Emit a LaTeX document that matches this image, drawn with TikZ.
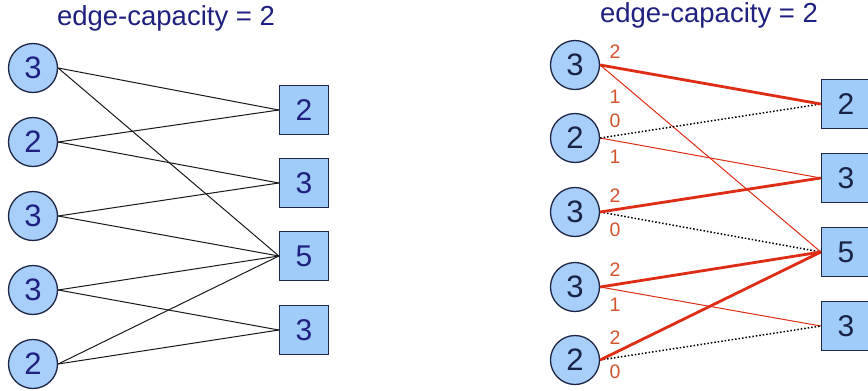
\documentclass[tikz,border=0pt]{standalone}
\usepackage{fontspec}
\setmainfont{Liberation Sans}
\definecolor{navy}{RGB}{32,32,128}
\definecolor{darknum}{RGB}{25,35,70}
\definecolor{bordercol}{RGB}{30,40,70}
\definecolor{circfill}{RGB}{168,206,250}
\definecolor{sqfill}{RGB}{160,204,250}
\definecolor{flowred}{RGB}{222,45,20}
\definecolor{labcol}{RGB}{210,85,45}
\begin{document}
\begin{tikzpicture}[x=1pt,y=-1pt,
  cnode/.style={circle, draw=bordercol, line width=1.3pt, fill=circfill, minimum size=49pt, inner sep=0pt, font=\fontsize{31}{31}\selectfont},
  snode/.style={rectangle, draw=bordercol, line width=1.3pt, fill=sqfill, minimum size=49pt, inner sep=0pt, font=\fontsize{30}{30}\selectfont},
  leftnum/.style={text=navy},
  rightnum/.style={text=darknum},
  title/.style={font=\fontsize{27.5}{27.5}\selectfont, text=navy, inner sep=0pt},
  plainedge/.style={draw=black!90, line width=1pt},
  flowtwo/.style={draw=flowred, line width=2.8pt},
  flowone/.style={draw=flowred, line width=1pt},
  flowzero/.style={draw=black, dotted, line width=1.5pt},
  lab/.style={font=\fontsize{19.5}{19.5}\selectfont, text=labcol, inner sep=0pt}
]
\useasboundingbox (0,0) rectangle (868,391);
\clip (0,0) rectangle (868,391);
\fill[white] (0,0) rectangle (868,391);

% titles
\node[title] (t1) at (166,18) {edge-capacity = 2};
\node[title] (t2) at (709,15) {edge-capacity = 2};

% left graph
\node[cnode, leftnum] (a1) at (33,68) {3};
\node[cnode, leftnum] (a2) at (33,142) {2};
\node[cnode, leftnum] (a3) at (33,216) {3};
\node[cnode, leftnum] (a4) at (33,290) {3};
\node[cnode, leftnum] (a5) at (33,364) {2};
\node[snode, leftnum] (p1) at (304,110) {2};
\node[snode, leftnum] (p2) at (304,183) {3};
\node[snode, leftnum] (p3) at (304,256) {5};
\node[snode, leftnum] (p4) at (304,330) {3};

\draw[plainedge] (a1.east) -- (p1.west);
\draw[plainedge] (a1.east) -- (p3.west);
\draw[plainedge] (a2.east) -- (p1.west);
\draw[plainedge] (a2.east) -- (p2.west);
\draw[plainedge] (a3.east) -- (p2.west);
\draw[plainedge] (a3.east) -- (p3.west);
\draw[plainedge] (a4.east) -- (p3.west);
\draw[plainedge] (a4.east) -- (p4.west);
\draw[plainedge] (a5.east) -- (p3.west);
\draw[plainedge] (a5.east) -- (p4.west);

% right graph
\node[cnode, rightnum] (b1) at (575,65) {3};
\node[cnode, rightnum] (b2) at (575,138) {2};
\node[cnode, rightnum] (b3) at (575,212) {3};
\node[cnode, rightnum] (b4) at (575,287) {3};
\node[cnode, rightnum] (b5) at (575,360) {2};
\node[snode, rightnum] (q1) at (846,104) {2};
\node[snode, rightnum] (q2) at (846,178) {3};
\node[snode, rightnum] (q3) at (846,252) {5};
\node[snode, rightnum] (q4) at (846,326) {3};

\draw[flowone] (b1.east) -- (q3.west);
\draw[flowone] (b2.east) -- (q2.west);
\draw[flowone] (b4.east) -- (q4.west);
\draw[flowzero] (b2.east) -- (q1.west);
\draw[flowzero] (b3.east) -- (q3.west);
\draw[flowzero] (b5.east) -- (q4.west);
\draw[flowtwo] (b1.east) -- (q1.west);
\draw[flowtwo] (b3.east) -- (q2.west);
\draw[flowtwo] (b4.east) -- (q3.west);
\draw[flowtwo] (b5.east) -- (q3.west);

% flow labels
\node[lab] (l1) at (615,52) {2};
\node[lab] (l2) at (615,97) {1};
\node[lab] (l3) at (615,121) {0};
\node[lab] (l4) at (615,157) {1};
\node[lab] (l5) at (615,196) {2};
\node[lab] (l6) at (615,230) {0};
\node[lab] (l7) at (615,270) {2};
\node[lab] (l8) at (615,305) {1};
\node[lab] (l9) at (615,338) {2};
\node[lab] (l10) at (615,372) {0};
\end{tikzpicture}
\end{document}
